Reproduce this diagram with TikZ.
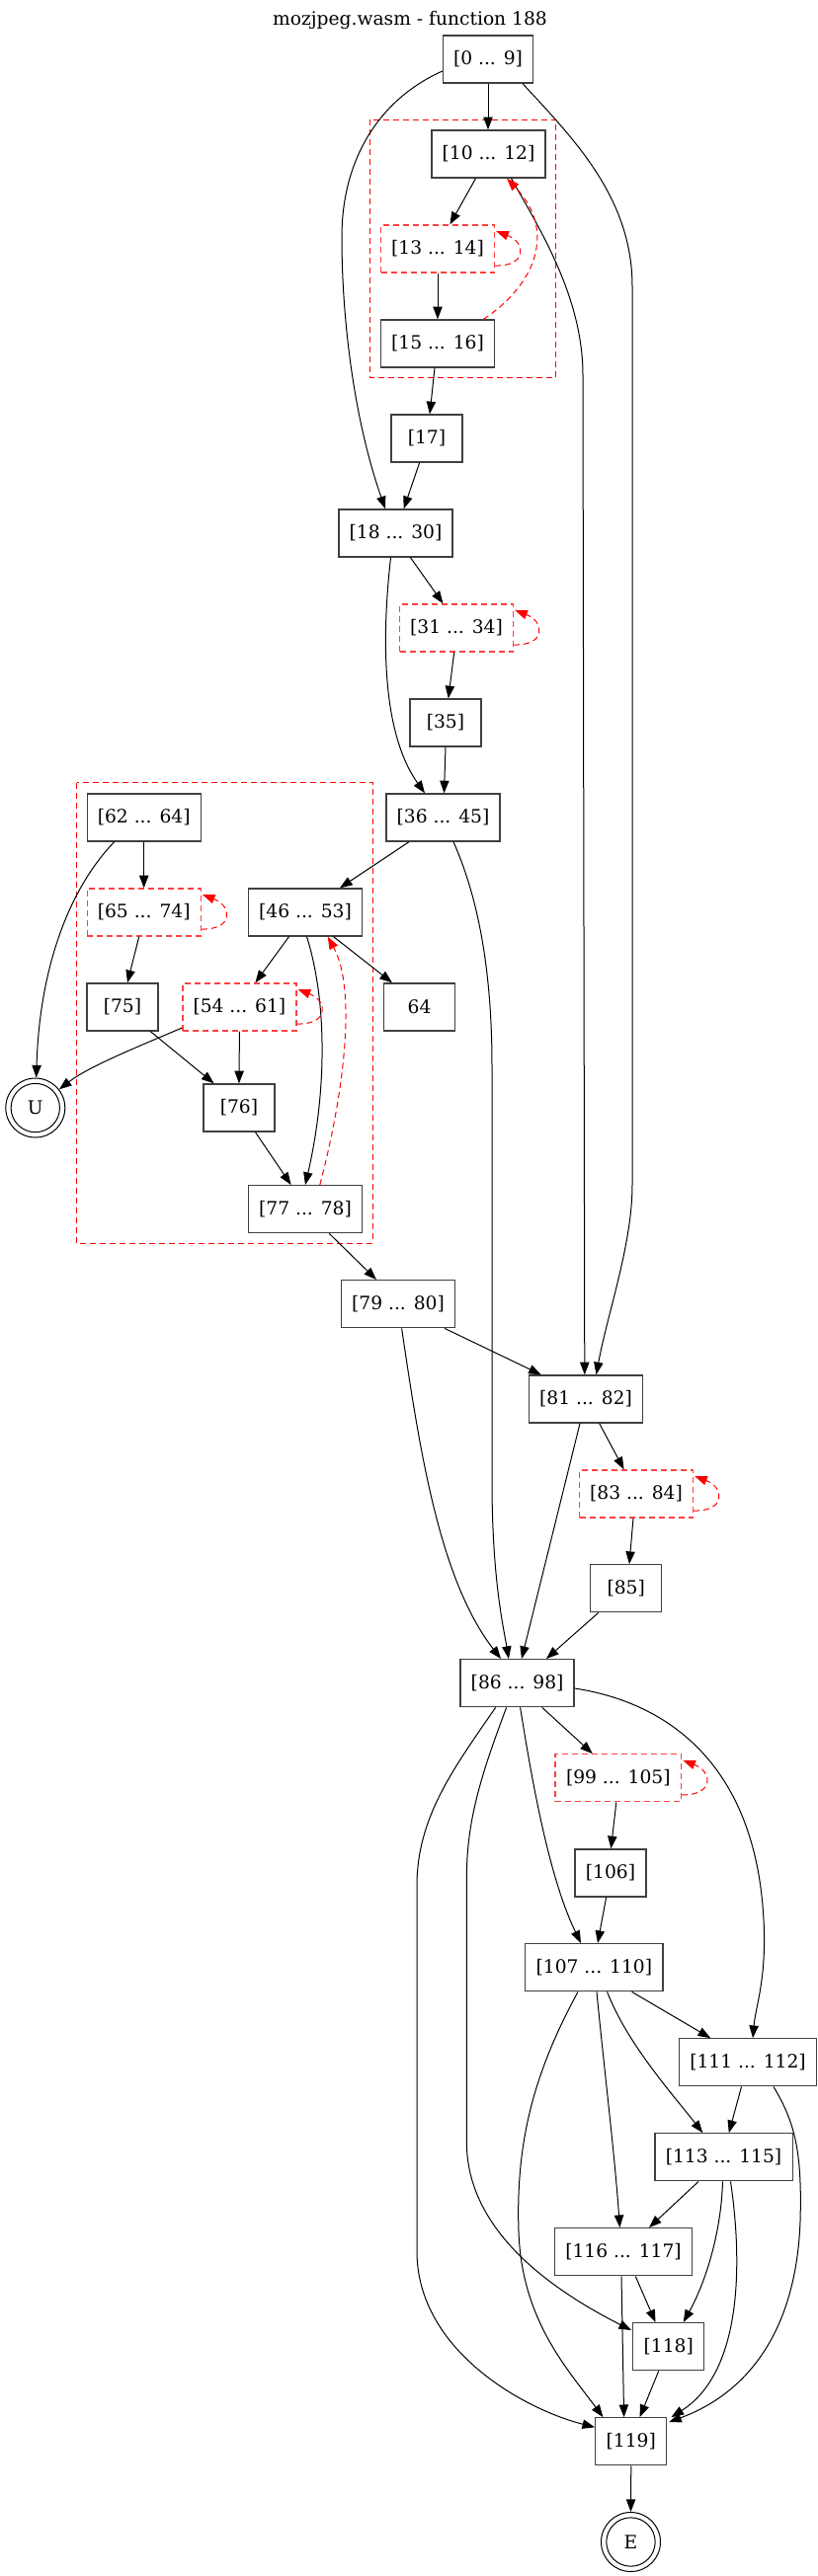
\documentclass[tikz,border=0pt]{standalone}
\usepackage{fontspec}
\setmainfont{DejaVu Serif}
\usetikzlibrary{arrows.meta,calc}
\definecolor{lred}{RGB}{255,64,64}
\begin{document}
\begin{tikzpicture}[x=0.75pt,y=-0.75pt,
 every node/.style={font=\fontsize{14}{16}\selectfont},
 blk/.style={draw=black!75, line width=1pt, fill=white, rectangle, minimum height=36pt, inner sep=0pt},
 lblk/.style={draw=lred, line width=1pt, dash pattern=on 4.5pt off 3pt, fill=white, rectangle, minimum height=36pt, inner sep=0pt},
 wA/.style={minimum width=68.25pt}, wB/.style={minimum width=86.25pt}, wC/.style={minimum width=54pt},
 wD/.style={minimum width=95.6pt}, wE/.style={minimum width=104.5pt},
 term/.style={circle, draw=black, line width=0.75pt, minimum size=45pt, inner sep=0pt},
 ed/.style={draw=black, line width=0.75pt, -{Triangle[length=9.5pt,width=7pt]}},
 bk/.style={draw=red, line width=0.75pt, dash pattern=on 4.5pt off 3pt, -{Triangle[length=9.5pt,width=7pt,fill=red]}},
 clus/.style={draw=red, line width=0.75pt, dash pattern=on 4.5pt off 3pt},
]
\fill[white] (0,0) rectangle (828,2609);
\useasboundingbox (0,0) rectangle (828,2609);

\node (title) at (415,20) {mozjpeg.wasm - function 188};

\draw[clus] (374.7,121) rectangle (562.6,382.7);
\draw[clus] (77.5,792.7) rectangle (377.4,1259);

\node[blk,wA] (n0) at (494,60) {[0 ... 9]};
\node[blk,wB] (n10) at (494.5,156) {[10 ... 12]};
\node[lblk,wB] (n13) at (443,252) {[13 ... 14]};
\node[blk,wB] (n15) at (443,348) {[15 ... 16]};
\node[blk,wC] (n17) at (432,444) {[17]};
\node[blk,wB] (n18) at (400.5,540) {[18 ... 30]};
\node[lblk,wB] (n31) at (462,636) {[31 ... 34]};
\node[blk,wC] (n35) at (451,732) {[35]};
\node[blk,wB] (n36) at (448.5,828) {[36 ... 45]};
\node[blk,wB] (n62) at (145.7,828) {[62 ... 64]};
\node[lblk,wB] (n65) at (145.7,924) {[65 ... 74]};
\node[blk,wB] (n46) at (309,924) {[46 ... 53]};
\node[blk,wC] (n75) at (124,1020) {[75]};
\node[lblk,wB] (n54) at (242.4,1020) {[54 ... 61]};
\node[blk,wC] (n64) at (424.6,1020) {64};
\node[term] (U) at (35.8,1122) {U};
\draw[line width=0.75pt] (U.center) circle[radius=18.5pt];
\node[blk,wC] (n76) at (242,1122) {[76]};
\node[blk,wB] (n77) at (309,1224.7) {[77 ... 78]};
\node[blk,wB] (n79) at (403,1320.7) {[79 ... 80]};
\node[blk,wB] (n81) at (593,1417) {[81 ... 82]};
\node[lblk,wB] (n83) at (644,1513) {[83 ... 84]};
\node[blk,wC] (n85) at (633.7,1608.7) {[85]};
\node[blk,wB] (n86) at (523.6,1704.7) {[86 ... 98]};
\node[lblk,wD] (n99) at (625.8,1800.8) {[99 ... 105]};
\node[blk,wC] (n106) at (618,1897) {[106]};
\node[blk,wE] (n107) at (601.4,1992.7) {[107 ... 110]};
\node[blk,wE] (n111) at (757,2088.8) {[111 ... 112]};
\node[blk,wE] (n113) at (732.5,2184.8) {[113 ... 115]};
\node[blk,wE] (n116) at (631,2280.8) {[116 ... 117]};
\node[blk,wC] (n118) at (676.7,2376.7) {[118]};
\node[blk,wC] (n119) at (638.8,2472.8) {[119]};
\node[term] (E) at (638.5,2574.5) {E};
\draw[line width=0.75pt] (E.center) circle[radius=18.5pt];

% edges
\draw[ed] (n0.south) -- ($(n10.north)+(-0.5,0)$);
\draw[ed] ($(n0.west)+(0,12)$) .. controls (385,100) and (346,160) .. (346,240) .. controls (346,330) and (360,430) .. ($(n18.north)+(-10.5,0)$);
\draw[ed] ($(n0.south)+(35,0)$) .. controls (580,140) and (640,200) .. (640,290) -- (640,1200) .. controls (640,1260) and (615,1330) .. ($(n81.north)+(10.5,0)$);
\draw[ed] ($(n10.south)+(-13,0)$) -- ($(n13.north)+(12.4,0)$);
\draw[ed] ($(n10.south)+(23,0)$) .. controls (545,230) and (590,300) .. (590,380) -- ($(n81.north)+(-1.2,0)$);
\draw[bk] ($(n13.east)+(0,17)$) .. controls +(32,1) and +(31,12) .. ($(n13.east)+(1,-18)$);
\draw[ed] (n13.south) -- (n15.north);
\draw[bk] ($(n15.north)+(46.4,0)$) .. controls (540,290) and (565,235) .. ($(n10.south)+(18.5,0)$);
\draw[ed] ($(n15.south)+(-3,0)$) -- ($(n17.north)+(3,0)$);
\draw[ed] ($(n17.south)+(-7.4,0)$) -- ($(n18.north)+(8.2,0)$);
\draw[ed] ($(n18.south)+(15,0)$) -- ($(n31.north)+(-13.5,0)$);
\draw[ed] ($(n18.south)+(-5,0)$) .. controls (387,640) and (385,740) .. ($(n36.north)+(-18.5,0)$);
\draw[bk] ($(n31.east)+(0,17)$) .. controls +(32,1) and +(31,12) .. ($(n31.east)+(1,-18)$);
\draw[ed] ($(n31.south)+(-2.3,0)$) -- ($(n35.north)+(2.8,0)$);
\draw[ed] (n35.south) -- ($(n36.north)+(1,0)$);
\draw[ed] ($(n36.south)+(-34.5,0)$) -- ($(n46.north)+(35,0)$);
\draw[ed] ($(n36.south)+(10.5,0)$) .. controls (480,900) and (498,970) .. (498,1080) -- (498,1500) .. controls (498,1600) and (510,1650) .. ($(n86.north)+(-8.7,0)$);
\draw[ed] (n62.south) -- (n65.north);
\draw[ed] ($(n62.south)+(-30,0)$) .. controls (70,900) and (40,980) .. (U);
\draw[bk] ($(n65.east)+(0,17)$) .. controls +(32,1) and +(31,12) .. ($(n65.east)+(1,-18)$);
\draw[ed] ($(n65.south)+(-5,0)$) -- ($(n75.north)+(5,0)$);
\draw[ed] ($(n46.south)+(-16.5,0)$) -- ($(n54.north)+(16,0)$);
\draw[ed] ($(n46.south)+(1.5,0)$) .. controls (330,1010) and (332,1100) .. (n77.north);
\draw[ed] ($(n46.south)+(28.6,0)$) -- ($(n64.north)+(-27.6,0)$);
\draw[bk] ($(n54.east)+(0,17)$) .. controls +(32,1) and +(31,12) .. ($(n54.east)+(1,-18)$);
\draw[ed] ($(n54.west)+(0,21)$) .. controls (140,1060) and (90,1080) .. (U);
\draw[ed] (n54.south) -- (n76.north);
\draw[ed] ($(n75.south)+(28.3,0)$) -- ($(n76.north)+(-25.4,0)$);
\draw[ed] ($(n76.south)+(16.5,0)$) -- ($(n77.north)+(-14.4,0)$);
\draw[bk] ($(n77.north)+(14.8,0)$) .. controls (350,1100) and (360,1000) .. ($(n46.south)+(22.7,0)$);
\draw[ed] ($(n77.south)+(24.3,0)$) -- ($(n79.north)+(-22,0)$);
\draw[ed] ($(n79.south)+(47,0)$) -- ($(n81.north)+(-45.2,0)$);
\draw[ed] ($(n79.south)+(3.6,0)$) .. controls (425,1470) and (445,1600) .. ($(n86.north)+(-16.6,0)$);
\draw[ed] ($(n81.south)+(13.7,0)$) -- ($(n83.north)+(-12.4,0)$);
\draw[ed] ($(n81.south)+(-6,0)$) -- ($(n86.north)+(4.4,0)$);
\draw[bk] ($(n83.east)+(0,17)$) .. controls +(32,1) and +(31,12) .. ($(n83.east)+(1,-18)$);
\draw[ed] ($(n83.south)+(-3,0)$) -- ($(n85.north)+(3.3,0)$);
\draw[ed] ($(n85.south)+(-28,0)$) -- ($(n86.north)+(29.4,0)$);
\draw[ed] ($(n86.south)+(25.2,0)$) -- ($(n99.north)+(-26,0)$);
\draw[ed] ($(n86.east)+(0,5.3)$) .. controls (680,1725) and (760,1790) .. (772,1930) .. controls (778,2000) and (765,2030) .. ($(n111.north)+(5,0)$);
\draw[ed] ($(n86.south)+(3,0)$) .. controls (538,1800) and (555,1900) .. ($(n107.north)+(-13.4,0)$);
\draw[ed] ($(n86.south)+(-11,0)$) .. controls (490,1790) and (472.4,1840) .. (472.4,1900) -- (472.4,2170) .. controls (472.4,2260) and (560,2320) .. ($(n118.north west)+(-1,8)$);
\draw[ed] ($(n86.south)+(-22,0)$) .. controls (460,1790) and (422,1840) .. (422,1910) -- (422,2280) .. controls (422,2380) and (530,2440) .. ($(n119.west)+(0,-14.5)$);
\draw[bk] ($(n99.east)+(0,17)$) .. controls +(32,1) and +(31,12) .. ($(n99.east)+(1,-18)$);
\draw[ed] ($(n99.south)+(-2,0)$) -- ($(n106.north)+(0.4,0)$);
\draw[ed] ($(n106.south)+(-4.4,0)$) -- ($(n107.north)+(3.6,0)$);
\draw[ed] ($(n107.south)+(38.2,0)$) -- ($(n111.north)+(-37.8,0)$);
\draw[ed] ($(n107.south)+(13.2,0)$) .. controls (635,2070) and (680,2120) .. ($(n113.north)+(-21.2,0)$);
\draw[ed] ($(n107.south)+(2.6,0)$) .. controls (612,2100) and (622,2180) .. ($(n116.north)+(-3.6,0)$);
\draw[ed] ($(n107.south)+(-16.4,0)$) .. controls (540,2100) and (522,2170) .. (525,2260) .. controls (528,2350) and (575,2400) .. ($(n119.north)+(-28.4,0)$);
\draw[ed] ($(n111.south)+(-6.5,0)$) -- ($(n113.north)+(5.3,0)$);
\draw[ed] ($(n111.south)+(26,0)$) .. controls (805,2150) and (812,2180) .. (810,2250) .. controls (805,2380) and (740,2430) .. ($(n119.north east)+(1.6,5)$);
\draw[ed] ($(n113.south)+(-25.5,0)$) -- ($(n116.north)+(26,0)$);
\draw[ed] ($(n113.south)+(-1,0)$) .. controls (730,2260) and (715,2310) .. ($(n118.north)+(15,0)$);
\draw[ed] ($(n113.south)+(7,0)$) .. controls (750,2280) and (755,2400) .. ($(n119.north east)+(4,0)$);
\draw[ed] ($(n116.south)+(12.3,0)$) -- ($(n118.north)+(-13.2,0)$);
\draw[ed] ($(n116.south)+(-2,0)$) -- ($(n119.north)+(-7.2,0)$);
\draw[ed] ($(n118.south)+(-10,0)$) -- ($(n119.north)+(8.8,0)$);
\draw[ed] (n119.south) -- (E.north);
\end{tikzpicture}
\end{document}
